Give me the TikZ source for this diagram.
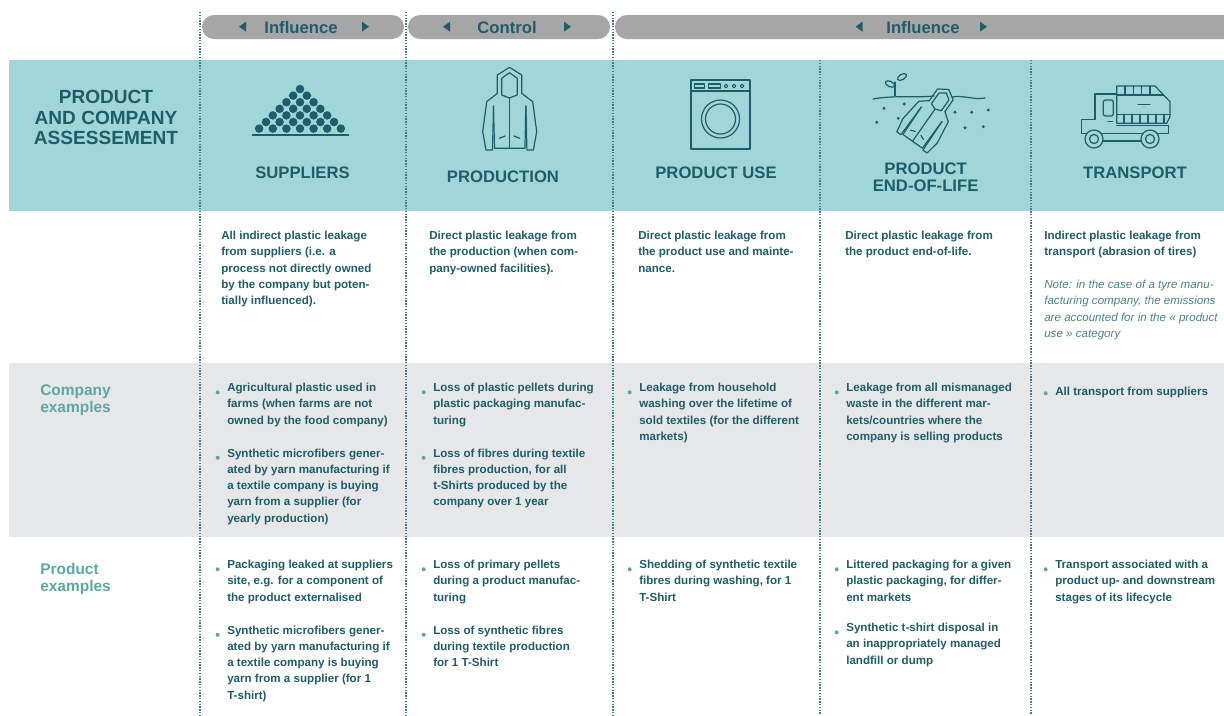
\documentclass[tikz,border=0pt]{standalone}
\usepackage{fontspec}
\setmainfont{Liberation Sans}
\usepackage{tikz}
\tikzset{>=latex}
\usetikzlibrary{calc,positioning}

\definecolor{deep}{HTML}{1E5D69}
\definecolor{leaf}{HTML}{5CA9A1}
\definecolor{band}{HTML}{A0D6D9}
\definecolor{rowgray}{HTML}{E6E7E8}
\definecolor{pillgray}{HTML}{A6A6A6}
\definecolor{septeal}{HTML}{3F8090}
\definecolor{notegray}{HTML}{4F8286}

\newcommand\txtbody{\bfseries\fontsize{8.7}{12.2}\selectfont}
\newcommand\txtnote{\itshape\fontsize{8.7}{12.2}\selectfont}
\newcommand\txthead{\bfseries\fontsize{12.5}{12.75}\selectfont}
\newcommand\txttitle{\bfseries\fontsize{14.3}{15.5}\selectfont}
\newcommand\txtlabel{\bfseries\fontsize{11.6}{12.75}\selectfont}

\tikzset{
  pill/.style={fill=pillgray, rounded corners=9pt},
  pilltext/.style={font=\txthead, text=deep, anchor=base, inner sep=0pt},
  colhead/.style={font=\txthead, text=deep, anchor=base, align=center, inner sep=0pt},
  twohead/.style={font=\txthead, text=deep, anchor=north, align=center, inner sep=0pt, execute at begin node=\strut, yshift=8.925pt},
  title/.style={font=\txttitle, text=deep, anchor=north, align=center, inner sep=0pt, execute at begin node=\strut, yshift=10.1pt},
  desc/.style={font=\txtbody, text=deep, anchor=north west, align=left, inner sep=0pt, execute at begin node=\strut, yshift=4.9pt},
  note/.style={desc, font=\txtnote, text=notegray},
  rowlabel/.style={font=\txtlabel, text=leaf, anchor=north west, align=left, inner sep=0pt, execute at begin node=\strut, yshift=6.7pt},
  sep/.style={draw=septeal, densely dotted, line width=1.1pt},
  icon/.style={draw=deep, line width=0.9pt, line join=round, line cap=round},
  jacket/.pic={
    % hood
    \draw[icon] (-12.7,-16.7) -- (-12.7,-35) -- (-0.5,-42.7) -- (11.7,-35) -- (11.7,-16.7);
    \draw[icon] (-8.3,-15) -- (-8.3,-31.7) -- (-0.5,-37.3) -- (7.3,-31.7) -- (7.3,-15) -- (-0.5,-12) -- cycle;
    % sleeves and body
    \draw[icon] (-12.7,-16.7) -- (-23.3,-8.3) -- (-27.3,21.7) -- (-24,40) -- (-17.5,40) -- (-16.5,-4);
    \draw[icon] (11.7,-16.7) -- (22.7,-8.3) -- (26.7,21.7) -- (23.4,40) -- (16.9,40) -- (15.9,-4);
    \draw[icon] (-16.5,-4) -- (-15.5,38.3) -- (14.9,38.3) -- (15.9,-4);
    \draw[icon] (-0.5,-12) -- (-0.5,38.3);
    \draw[icon] (-10.7,28.3) -- (-5,26) (4,26) -- (9.7,28.3);
  }
}

\begin{document}
\begin{tikzpicture}[x=0.75pt,y=-0.75pt]
\useasboundingbox (0,0) rectangle (1224,715);
\clip (0,0) rectangle (1224,715);

% bands
\fill[band] (9,60) rectangle (1224,211);
\fill[rowgray] (9,363) rectangle (1224,537);

% top bar
\fill[pill] (202,15) rectangle (404,39);
\fill[pill] (408,15) rectangle (610,39);
\fill[pill] (615,15) rectangle (1250,39);
\foreach \l/\r in {239/369, 443/571, 855.5/987} {
  \fill[deep] (\l,26.7) -- ++(7,-5) -- ++(0,10) -- cycle;
  \fill[deep] (\r,26.7) -- ++(-7,-5) -- ++(0,10) -- cycle;
}
\node[pilltext] (infl1) at (301,33) {Influence};
\node[pilltext] (ctrl) at (507,33) {Control};
\node[pilltext] (infl2) at (923,33) {Influence};

% column separators
\foreach \x in {200,406,613} \draw[sep] (\x,12) -- (\x,715);
\foreach \x in {820,1031} \draw[sep] (\x,60) -- (\x,715);

% header row
\node[title] (assess) at (106,103.5) {PRODUCT\\AND COMPANY\\ASSESSEMENT};
\node[colhead] (hsup) at (302.5,178) {SUPPLIERS};
\node[colhead] (hpro) at (503,182) {PRODUCTION};
\node[colhead] (huse) at (716,178) {PRODUCT USE};
\node[twohead] (heol) at (925.6,174) {PRODUCT\\END-OF-LIFE};
\node[colhead] (htra) at (1135,178) {TRANSPORT};

% suppliers icon
\foreach \r in {0,...,6}
  \foreach \i in {0,...,\r}
    \fill[deep] ({300+13.6*(\i-\r/2)},{89+6.6*\r}) circle (3.2pt);
\draw[deep, line width=1pt] (252,135) -- (349,135);

% production icon
\pic at (510,110) {jacket};

% product use icon
\draw[icon] (691,80) rectangle (750,149);
\draw[icon] (691,91) -- (750,91);
\draw[icon] (694.5,84) rectangle (704.5,88) (708.7,84) rectangle (720.5,88);
\foreach \x in {726,734,742} \draw[icon, line width=0.7pt] (\x,86) circle (1.4pt);
\draw[icon] (720.5,119) circle (14.25pt) (720.5,119) circle (11.25pt);

% end-of-life icon
\draw[icon] (873,99) .. controls (895,95) and (915,98) .. (934,96);
\draw[icon] (952,97) .. controls (965,95) and (972,100) .. (985,98);
\draw[icon] (895,96) -- (895,82);
\draw[icon] (890,84) ellipse [x radius=5, y radius=2.7, rotate=-25];
\draw[icon] (902,77) ellipse [x radius=5, y radius=2.7, rotate=30];
\foreach \p in {(884,108.3),(904.3,104),(876.7,122.3),(898.3,118.3),(955,112.3),(971.7,112.3),(988.3,110),(965,127.7),(983.3,126.7)}
  \fill[deep] \p circle (1.2pt);
\pic[scale=0.78, rotate=-35] at (930,117) {jacket};

% transport icon
\draw[icon] (1116.7,94) -- (1095,94) -- (1095,119.3) -- (1081.7,119.3) -- (1081.7,133.3) -- (1168.3,133.3) -- (1168.3,125.5) -- (1116.7,125.5);
\draw[icon, rounded corners=1.5pt] (1103.3,100) rectangle (1113.3,116);
\draw[icon] (1108,121.7) -- (1112.7,121.7);
\draw[icon] (1116.7,123.3) -- (1116.7,86) -- (1155,86) -- (1170,101.7) -- (1170,116.7) -- (1166.7,123.3) -- cycle;
\draw[icon] (1116.7,95) -- (1163.6,95) (1116.7,114.3) -- (1170,114.3);
\foreach \x in {1125,1133.3,1141.7,1150} \draw[icon] (\x,86) -- (\x,95);
\foreach \x in {1124,1132,1140,1148,1156,1164} \draw[icon] (\x,114.3) -- (\x,123.3);
\draw[icon] (1138,104.3) -- (1150,104.3);
\draw[icon] (1103,141) -- (1141,141);
\foreach \x in {1094,1150} {
  \filldraw[icon, fill=band] (\x,139) circle (6.75pt);
  \draw[icon] (\x,139) circle (3.4pt);
}

% description row
\node[desc] (dsup) at (221,237.5) {All indirect plastic leakage\\from suppliers (i.e. a\\process not directly owned\\by the company but poten-\\tially influenced).};
\node[desc] (dpro) at (429,237.5) {Direct plastic leakage from\\the production (when com-\\pany-owned facilities).};
\node[desc] (duse) at (638,237.5) {Direct plastic leakage from\\the product use and mainte-\\nance.};
\node[desc] (deol) at (845,237.5) {Direct plastic leakage from\\the product end-of-life.};
\node[desc] (dtra) at (1044,237.5) {Indirect plastic leakage from\\transport (abrasion of tires)};
\node[note] (ntra) at (1044,286.5) {Note: in the case of a tyre manu-\\facturing company, the emissions\\are accounted for in the « product\\use » category};

% company examples
\node[rowlabel] (lcomp) at (40,393) {Company\\examples};
\node[desc] (csup1) at (227,389.5) {Agricultural plastic used in\\farms (when farms are not\\owned by the food company)};
\node[desc] (csup2) at (227,455) {Synthetic microfibers gener-\\ated by yarn manufacturing if\\a textile company is buying\\yarn from a supplier (for\\yearly production)};
\node[desc] (cpro1) at (433,389.5) {Loss of plastic pellets during\\plastic packaging manufac-\\turing};
\node[desc] (cpro2) at (433,455) {Loss of fibres during textile\\fibres production, for all\\t-Shirts produced by the\\company over 1 year};
\node[desc] (cuse1) at (639,389.5) {Leakage from household\\washing over the lifetime of\\sold textiles (for the different\\markets)};
\node[desc] (ceol1) at (846,389.5) {Leakage from all mismanaged\\waste in the different mar-\\kets/countries where the\\company is selling products};
\node[desc] (ctra1) at (1055,390.5) {All transport from suppliers};

% product examples
\node[rowlabel] (lprod) at (40,572) {Product\\examples};
\node[desc] (psup1) at (227,566.5) {Packaging leaked at suppliers\\site, e.g. for a component of\\the product externalised};
\node[desc] (psup2) at (227,632) {Synthetic microfibers gener-\\ated by yarn manufacturing if\\a textile company is buying\\yarn from a supplier (for 1\\T-shirt)};
\node[desc] (ppro1) at (433,566.5) {Loss of primary pellets\\during a product manufac-\\turing};
\node[desc] (ppro2) at (433,632) {Loss of synthetic fibres\\during textile production\\for 1 T-Shirt};
\node[desc] (puse1) at (639,566.5) {Shedding of synthetic textile\\fibres during washing, for 1\\T-Shirt};
\node[desc] (peol1) at (846,566.5) {Littered packaging for a given\\plastic packaging, for differ-\\ent markets};
\node[desc] (peol2) at (846,629.5) {Synthetic t-shirt disposal in\\an inappropriately managed\\landfill or dump};
\node[desc] (ptra1) at (1055,566.5) {Transport associated with a\\product up- and downstream\\stages of its lifecycle};

% bullets
\foreach \n in {csup1,csup2,cpro1,cpro2,cuse1,ceol1,ctra1,psup1,psup2,ppro1,ppro2,puse1,peol1,peol2,ptra1}
  \fill[leaf] ([xshift=-7pt,yshift=-7pt]\n.north west) circle (1.5pt);
\end{tikzpicture}
\end{document}
